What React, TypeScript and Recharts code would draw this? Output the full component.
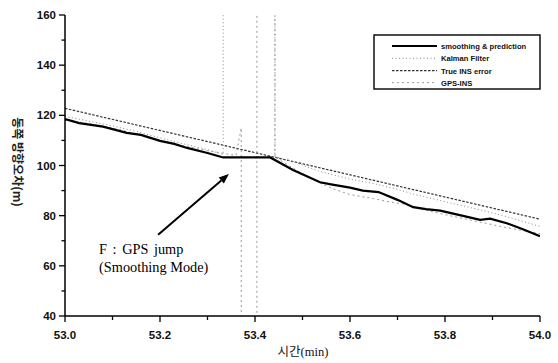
import React from 'react';
import { LineChart, Line, XAxis, YAxis, ReferenceLine } from 'recharts';

// ---- data ----
const smoothX = [53.0, 53.03, 53.08, 53.13, 53.16, 53.2, 53.23, 53.257, 53.3, 53.333, 53.432, 53.48, 53.537, 53.56, 53.6, 53.627, 53.66, 53.7, 53.733, 53.76, 53.79, 53.838, 53.874, 53.895, 53.93, 53.964, 54.0];
const smoothY = [118.5, 116.9, 115.5, 113.0, 112.2, 109.8, 108.6, 107.0, 105.0, 103.2, 103.2, 98.2, 93.3, 92.5, 91.2, 90.0, 89.4, 86.3, 83.4, 82.6, 82.0, 79.9, 78.3, 78.8, 77.0, 74.6, 71.8];

const kalmanX = [53.0, 53.05, 53.1, 53.15, 53.2, 53.25, 53.3, 53.333, 53.333, 53.442, 53.442, 53.48, 53.537, 53.6, 53.65, 53.7, 53.733, 53.8, 53.874, 53.93, 54.0];
const kalmanY = [119.6, 117.7, 115.8, 113.6, 111.0, 108.6, 106.3, 104.4, 175, 175, 103.6, 101.5, 97.6, 94.6, 92.8, 90.5, 88.6, 85.6, 82.3, 79.6, 75.7];

const trueX = [53.0, 54.0];
const trueY = [122.8, 78.6];

const gpsX = [53.0, 53.06, 53.12, 53.18, 53.24, 53.3, 53.36, 53.371, 53.371, 53.404, 53.404, 53.442, 53.442, 53.48, 53.52, 53.56, 53.6, 53.65, 53.68, 53.72, 53.76, 53.8, 53.85, 53.9, 53.93, 53.96, 54.0];
const gpsY = [118.2, 116.4, 114.1, 110.8, 108.2, 105.9, 104.0, 115, 30, 30, 175, 175, 103.4, 99.0, 94.6, 91.0, 88.4, 86.8, 85.6, 84.4, 82.2, 80.4, 78.4, 76.4, 75.2, 74.2, 72.8];

const xTicks = [53.0, 53.1, 53.2, 53.3, 53.4, 53.5, 53.6, 53.7, 53.8, 53.9, 54.0];
const yTicks = [40, 50, 60, 70, 80, 90, 100, 110, 120, 130, 140, 150, 160];

const legendNames = ['smoothing & prediction', 'Kalman Filter', 'True INS error', 'GPS-INS'];
const annotationText = ['F : GPS jump', '(Smoothing Mode)'];
const arrowFrom = { x: 53.196, y: 72.4 };
const arrowTo = { x: 53.345, y: 96.6 };
const xTitleKo = '시간';
const xTitleUnit = '(min)';
const yTitle = '동쪽 방향오차(m)';

const zip = (xs: number[], ys: number[]) => xs.map((x, i) => ({ x, y: ys[i] }));
const smoothData = zip(smoothX, smoothY);
const kalmanData = zip(kalmanX, kalmanY);
const trueData = zip(trueX, trueY);
const gpsData = zip(gpsX, gpsY);

const tickFont = "'Liberation Sans', Arial, sans-serif";

const YTick = (props: any) => {
  const { x, y, payload } = props;
  const v = payload.value;
  const major = v % 20 === 0;
  return (
    <g>
      <line x1={x - (major ? 6 : 3.5)} y1={y} x2={x} y2={y} stroke="#000" strokeWidth={1.3} />
      {major && (
        <text x={x - 9} y={y + 4} textAnchor="end" fontFamily={tickFont} fontWeight="bold" fontSize={11.5} fill="#111">
          {v}
        </text>
      )}
    </g>
  );
};

const XTick = (props: any) => {
  const { x, y, payload } = props;
  const v = payload.value;
  const major = Math.round(v * 10) % 2 === 0;
  return (
    <g>
      <line x1={x} y1={y} x2={x} y2={y + (major ? 6 : 4)} stroke="#000" strokeWidth={1.3} />
      {major && (
        <text x={x} y={y + 23} textAnchor="middle" fontFamily={tickFont} fontWeight="bold" fontSize={11.5} fill="#111">
          {v.toFixed(1)}
        </text>
      )}
    </g>
  );
};

const ArrowShape = (props: any) => {
  const { x1, y1, x2, y2 } = props;
  if ([x1, y1, x2, y2].some((v) => v === undefined || isNaN(v))) return null;
  const ang = Math.atan2(y2 - y1, x2 - x1);
  const L = 10;
  const W = 4;
  const bx = x2 - L * Math.cos(ang);
  const by = y2 - L * Math.sin(ang);
  const px = -Math.sin(ang) * W;
  const py = Math.cos(ang) * W;
  return (
    <g>
      <line x1={x1} y1={y1} x2={bx} y2={by} stroke="#000" strokeWidth={2} />
      <polygon points={`${x2},${y2} ${bx + px},${by + py} ${bx - px},${by - py}`} fill="#000" />
      {annotationText.map((t, i) => (
        <text
          key={i}
          x={x1 - 59}
          y={y1 + 19 + i * 18.5}
          fontFamily="'Liberation Serif', 'Times New Roman', serif"
          fontSize={14.3}
          wordSpacing={i === 0 ? 2 : 0}
          fill="#000"
        >
          {t}
        </text>
      ))}
    </g>
  );
};

const legendStyles = [
  { stroke: '#000', width: 2, dash: undefined as string | undefined, y: 46 },
  { stroke: '#888', width: 1, dash: '1 2.5', y: 58.3 },
  { stroke: '#333', width: 1.2, dash: '2.5 1.5', y: 70.7 },
  { stroke: '#999', width: 1, dash: '2 3', y: 82.7 },
];

const LegendBox = () => (
  <svg width={558} height={363} style={{ position: 'absolute', left: 0, top: 0, pointerEvents: 'none' }}>
    <rect x={374} y={35} width={166} height={54} fill="#fff" stroke="#000" strokeWidth={1.4} />
    {legendNames.map((name, i) => {
      const s = legendStyles[i];
      return (
        <g key={name}>
          <line x1={392} y1={s.y} x2={437} y2={s.y} stroke={s.stroke} strokeWidth={s.width} strokeDasharray={s.dash} />
          <text x={441} y={s.y + 2.8} fontFamily={tickFont} fontWeight="bold" fontSize={7.6} fill="#111">
            {name}
          </text>
        </g>
      );
    })}
    <text
      transform="translate(13,162) rotate(90)"
      textAnchor="middle"
      fontFamily="'Noto Sans CJK KR', sans-serif"
      fontWeight="bold"
      fontSize={12}
      fill="#222"
    >
      {yTitle}
    </text>
    <text x={303} y={356} textAnchor="middle" fontSize={12.5} fill="#111">
      <tspan fontFamily="'Noto Sans CJK KR', sans-serif">{xTitleKo}</tspan>
      <tspan fontFamily="'Liberation Serif', serif">{xTitleUnit}</tspan>
    </text>
  </svg>
);

export default function App() {
  return (
    <div style={{ position: 'absolute', left: 0, top: 0, width: 558, height: 363, background: '#fff' }}>
      <LineChart width={558} height={363} margin={{ top: 15, right: 18, left: 0, bottom: 0 }}>
        <XAxis
          type="number"
          dataKey="x"
          domain={[53, 54]}
          ticks={xTicks}
          allowDataOverflow
          height={47}
          tickSize={0}
          tickMargin={0}
          tickLine={false}
          tick={<XTick />}
          axisLine={{ stroke: '#000', strokeWidth: 1.5 }}
          interval={0}
        />
        <YAxis
          type="number"
          dataKey="y"
          domain={[40, 160]}
          ticks={yTicks}
          allowDataOverflow
          width={65}
          tickSize={0}
          tickMargin={0}
          tickLine={false}
          tick={<YTick />}
          axisLine={{ stroke: '#000', strokeWidth: 1.5 }}
          interval={0}
        />
        <Line data={trueData} dataKey="y" type="linear" stroke="#333" strokeWidth={1.2} strokeDasharray="2.5 1.5" dot={false} isAnimationActive={false} />
        <Line data={kalmanData} dataKey="y" type="linear" stroke="#888" strokeWidth={1} strokeDasharray="1 2.5" dot={false} isAnimationActive={false} />
        <Line data={gpsData} dataKey="y" type="linear" stroke="#999" strokeWidth={1} strokeDasharray="2 3" dot={false} isAnimationActive={false} />
        <Line data={smoothData} dataKey="y" type="linear" stroke="#000" strokeWidth={2.2} dot={false} isAnimationActive={false} />
        <ReferenceLine segment={[arrowFrom, arrowTo]} shape={<ArrowShape />} ifOverflow="visible" />
      </LineChart>
      <LegendBox />
    </div>
  );
}
